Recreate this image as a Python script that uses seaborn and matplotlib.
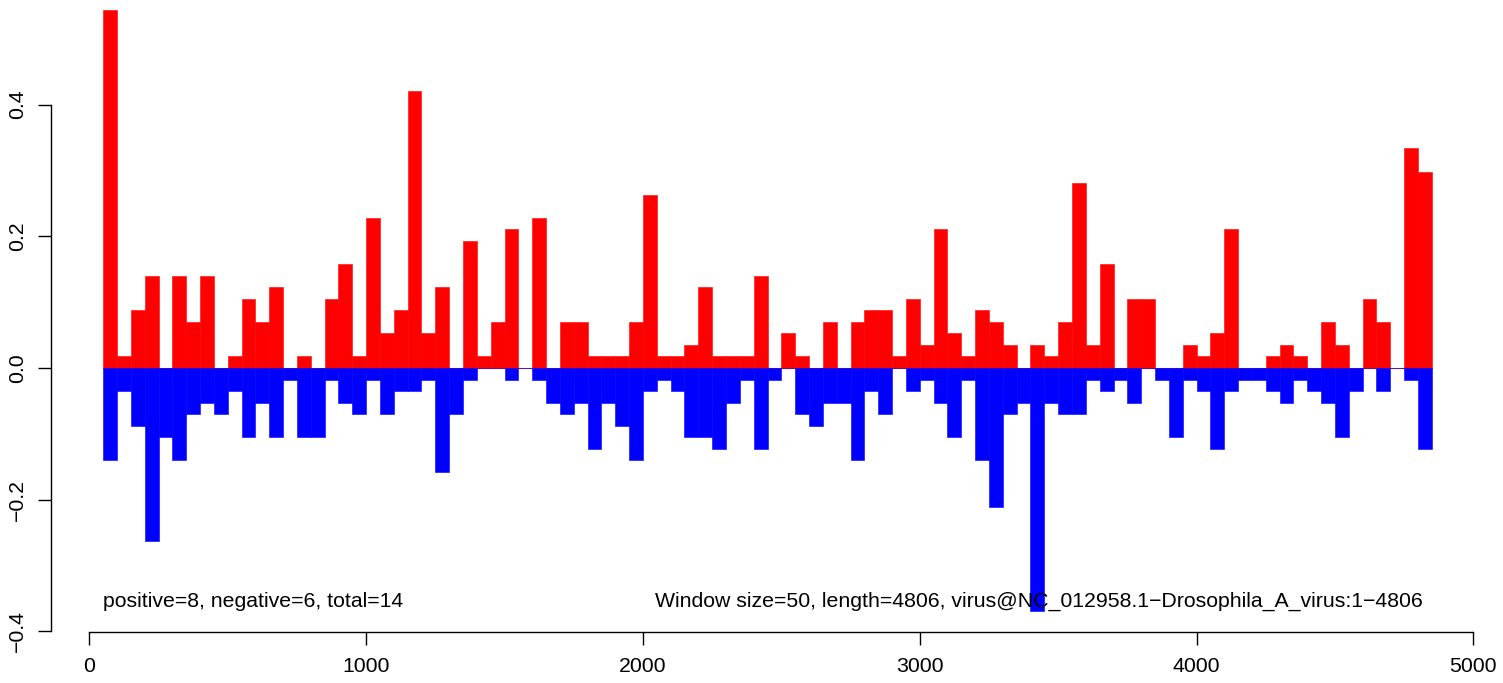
import matplotlib
matplotlib.use("Agg")
import matplotlib.pyplot as plt
import numpy as np
import pandas as pd
import seaborn as sns

# window size 50, values in steps of 1/57
window = 50
length = 4806
step = 1 / 57
window_start = np.arange(50, 4801, window)

pos_counts = [31, 1, 5, 8, 0, 8, 4, 8, 0, 1, 6, 4, 7, 0, 1, 0,
              6, 9, 1, 13, 3, 5, 24, 3, 7, 0, 11, 1, 4, 12, 0, 13,
              0, 4, 4, 1, 1, 1, 4, 15, 1, 1, 2, 7, 1, 1, 1, 8,
              0, 3, 1, 0, 4, 0, 4, 5, 5, 1, 6, 2, 12, 3, 1, 5,
              4, 2, 0, 2, 1, 4, 16, 2, 9, 0, 6, 6, 0, 0, 2, 1,
              3, 12, 0, 0, 1, 2, 1, 0, 4, 2, 0, 6, 4, 0, 19, 17]
neg_counts = [8, 2, 5, 15, 6, 8, 4, 3, 4, 2, 6, 3, 6, 1, 6, 6,
              1, 3, 4, 1, 4, 2, 2, 1, 9, 4, 1, 0, 0, 1, 0, 1,
              3, 4, 3, 7, 3, 5, 8, 2, 1, 2, 6, 6, 7, 3, 1, 7,
              1, 0, 4, 5, 3, 3, 8, 2, 4, 0, 2, 1, 3, 6, 1, 8,
              12, 4, 3, 21, 3, 4, 4, 1, 2, 1, 3, 0, 1, 6, 1, 2,
              7, 2, 1, 1, 2, 3, 1, 2, 3, 6, 2, 0, 2, 0, 1, 7]

y_ticks = [-0.4, -0.2, 0.0, 0.2, 0.4]
y_labels = ["\u22120.4", "\u22120.2", "0.0", "0.2", "0.4"]
x_ticks = [0, 1000, 2000, 3000, 4000, 5000]
left_note = "positive=8, negative=6, total=14"
right_note = ("Window size=50, length=4806, "
              "virus@NC_012958.1\u2212Drosophila_A_virus:1\u22124806")

df = pd.DataFrame({
    "center": window_start + window / 2,
    "positive": np.array(pos_counts) * step,
    "negative": -np.array(neg_counts) * step,
})

plt.rcParams["font.family"] = ["Liberation Sans", "DejaVu Sans"]
fs = 15.3

fig = plt.figure(figsize=(15.03, 6.83), dpi=100)
ax = fig.add_axes([51 / 1503, (683 - 631.7) / 683, (1485 - 51) / 1503, 631.7 / 683])

ax.plot([window_start[0], window_start[-1] + window], [0, 0], color="#888888", lw=0.8, zorder=0.5)
sns.barplot(df, x="center", y="positive", native_scale=True, width=1, color="#FF0000",
            saturation=1, errorbar=None, edgecolor="#FF0000", linewidth=0.4, ax=ax)
sns.barplot(df, x="center", y="negative", native_scale=True, width=1, color="#0000FF",
            saturation=1, errorbar=None, edgecolor="#0000FF", linewidth=0.4, ax=ax)

ax.text(window_start[0], -0.354, left_note, ha="left", va="center", fontsize=fs)
ax.text(length + 10, -0.354, right_note, ha="right", va="center", fontsize=fs)

ax.set_xlim(-138.4, 5042)
ax.set_ylim(-0.4004, 0.5588)
ax.set_xlabel("")
ax.set_ylabel("")

for side in ["top", "right"]:
    ax.spines[side].set_visible(False)
ax.spines["left"].set_bounds(-0.4, 0.4)
ax.spines["bottom"].set_bounds(0, 5000)
for side in ["left", "bottom"]:
    ax.spines[side].set_linewidth(1.0)
    ax.spines[side].set_color("black")

ax.set_xticks(x_ticks, [str(t) for t in x_ticks], fontsize=fs)
ax.set_yticks(y_ticks, y_labels, fontsize=fs, rotation=90, va="center")
ax.tick_params(axis="both", direction="out", length=9.5, width=1.0, colors="black")
ax.tick_params(axis="x", pad=9)
ax.tick_params(axis="y", pad=8)

fig.savefig("out.png", dpi=100)
